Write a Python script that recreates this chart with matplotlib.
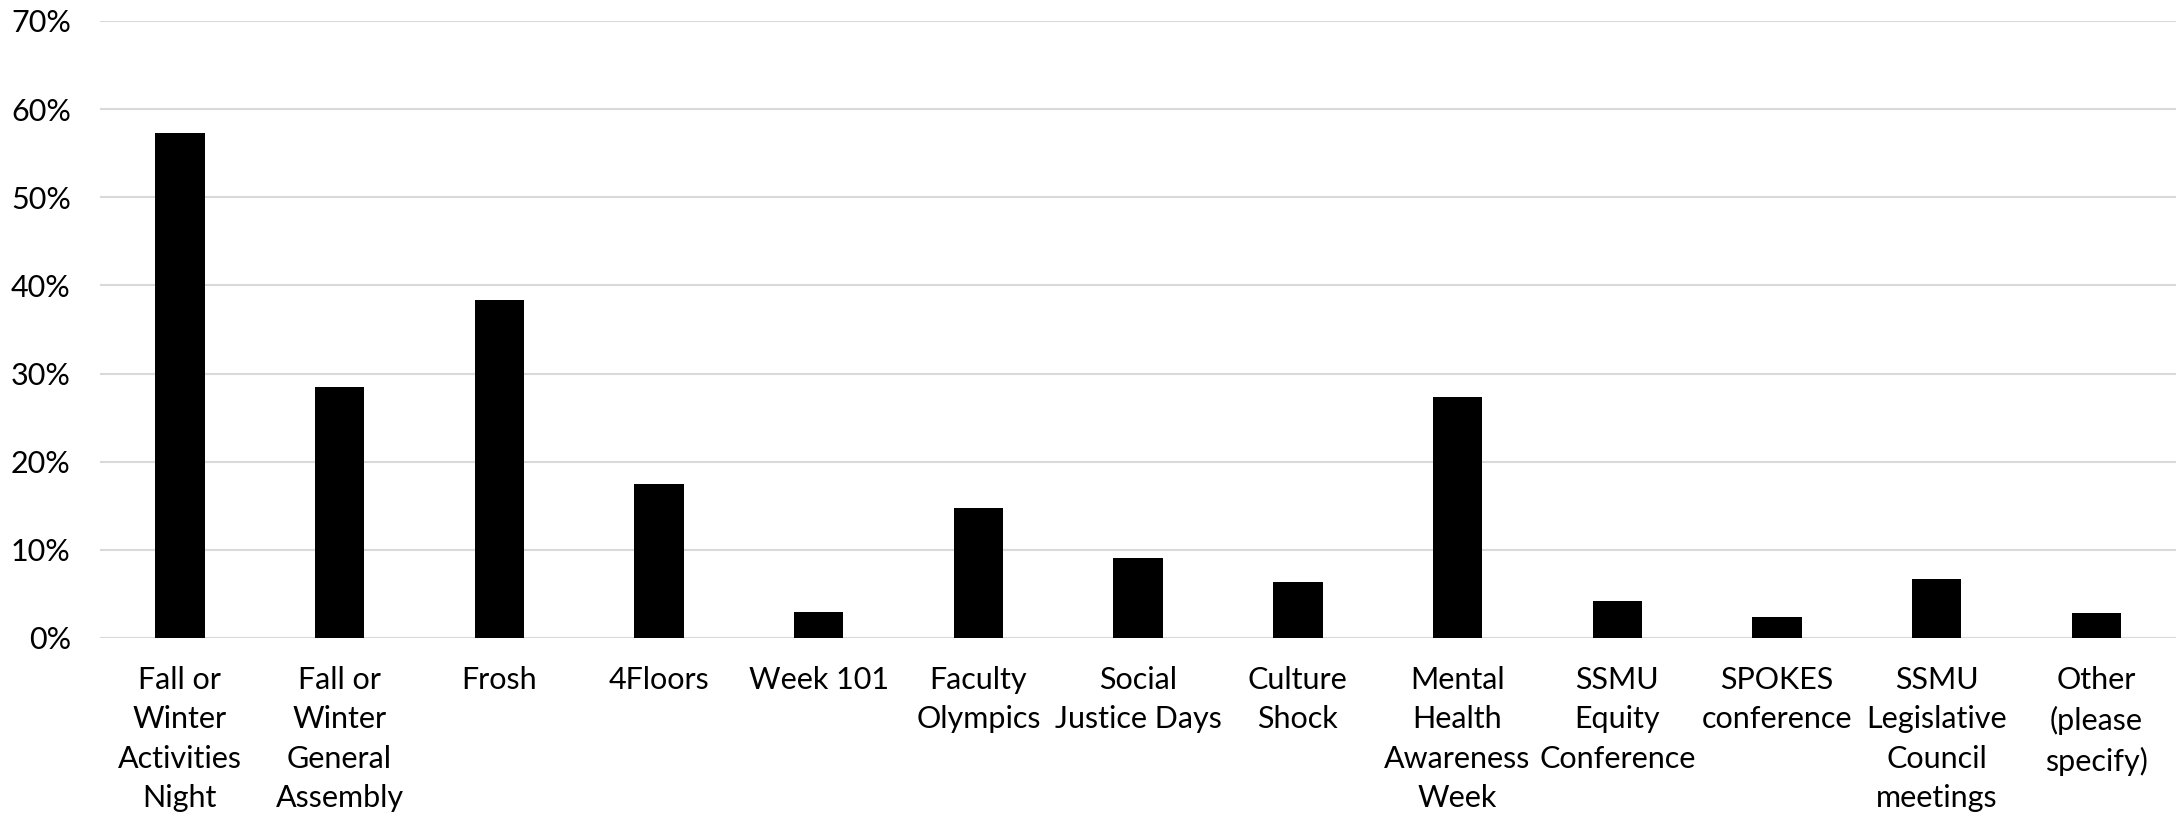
import matplotlib
matplotlib.use("Agg")
import matplotlib.pyplot as plt
from matplotlib.ticker import PercentFormatter

# Event names (line breaks as in the original chart)
categories = [
    "Fall or\nWinter\nActivities\nNight",
    "Fall or\nWinter\nGeneral\nAssembly",
    "Frosh",
    "4Floors",
    "Week 101",
    "Faculty\nOlympics",
    "Social\nJustice Days",
    "Culture\nShock",
    "Mental\nHealth\nAwareness\nWeek",
    "SSMU\nEquity\nConference",
    "SPOKES\nconference",
    "SSMU\nLegislative\nCouncil\nmeetings",
    "Other\n(please\nspecify)",
]

# Share of respondents (%)
values = [57.3, 28.5, 38.3, 17.5, 2.9, 14.8, 9.1, 6.4, 27.3, 4.2, 2.4, 6.7, 2.8]

y_ticks = [0, 10, 20, 30, 40, 50, 60, 70]

plt.rcParams["font.family"] = ["Lato", "DejaVu Sans"]

fig = plt.figure(figsize=(21.78, 8.13), dpi=100)
ax = fig.add_axes([0.0459, 0.2153, 0.9533, 0.7589])

x = list(range(len(categories)))
ax.bar(x, values, width=0.31, color="black", zorder=3)

ax.set_xlim(-0.5, len(categories) - 0.5)
ax.set_ylim(0, 70)
ax.set_yticks(y_ticks)
ax.yaxis.set_major_formatter(PercentFormatter(decimals=0))
ax.set_xticks(x)
ax.set_xticklabels(categories, linespacing=1.5)

ax.grid(axis="y", color="#d9d9d9", linewidth=1.5, zorder=0)
ax.set_axisbelow(True)
for side in ["top", "right", "left", "bottom"]:
    ax.spines[side].set_visible(False)

ax.tick_params(axis="both", length=0, labelsize=22, colors="black")
ax.tick_params(axis="x", pad=20)
ax.tick_params(axis="y", pad=21)
for lbl in ax.get_xticklabels():
    lbl.set_verticalalignment("top")

fig.savefig("out.png", dpi=100)
